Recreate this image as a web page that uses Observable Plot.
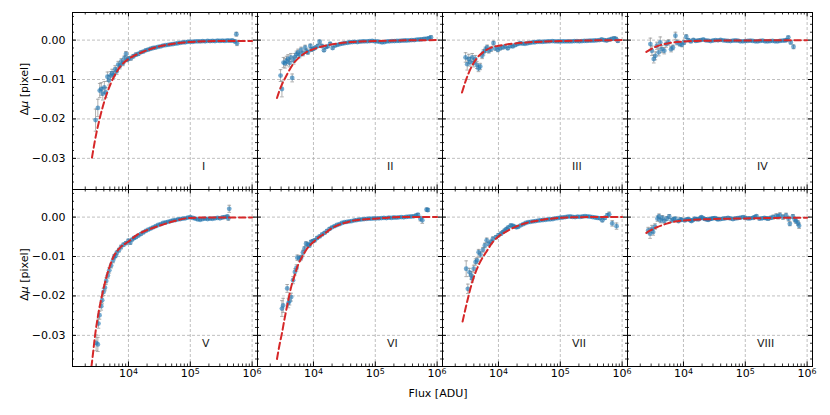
<!DOCTYPE html>
<html>
<head>
<meta charset="utf-8">
<script src="https://cdn.jsdelivr.net/npm/d3@7"></script>
<script src="https://cdn.jsdelivr.net/npm/@observablehq/plot@0.6"></script>
<style>
  body { margin: 0; background: #fff; }
  #chart { width: 830px; height: 415px; }
</style>
</head>
<body>
<div id="chart"></div>
<script>
// ---------- DATA ----------
// readings: [log10(flux / ADU), Δμ in 1e-3 pixel, error in 1e-3 pixel]
// fits:     [log10(flux / ADU), Δμ in 1e-3 pixel]
const panelNames = ["I", "II", "III", "IV", "V", "VI", "VII", "VIII"];

const readings_I = [
  [3.468,-20.3,2.8],[3.505,-17.2,2.2],[3.535,-12.8,1.8],[3.56,-12.4,1.6],[3.585,-13.6,1.6],
  [3.61,-12.0,1.5],[3.635,-13.3,1.3],[3.66,-9.3,1.2],[3.685,-10.2,1.2],[3.71,-9.0,1.0],
  [3.735,-8.4,1.0],[3.76,-8.9,0.9],[3.785,-7.4,0.9],[3.81,-7.9,0.8],[3.835,-6.2,0.8],
  [3.86,-6.6,0.7],[3.885,-5.4,0.7],[3.91,-5.9,0.6],[3.935,-4.6,0.6],[3.96,-3.5,0.6],
  [3.98,-5.0,0.5],[4.00,-4.7,0.5],[4.04,-4.6,0.5],[4.08,-4.1,0.4],[4.12,-3.7,0.4],
  [4.16,-3.5,0.4],[4.20,-3.1,0.3],[4.24,-2.9,0.3],[4.28,-2.6,0.3],[4.32,-2.4,0.3],
  [4.36,-2.2,0.3],[4.40,-2.0,0.3],[4.44,-1.9,0.3],[4.48,-1.7,0.2],[4.52,-1.6,0.2],
  [4.56,-1.4,0.2],[4.60,-1.3,0.2],[4.64,-1.2,0.2],[4.68,-1.1,0.2],[4.72,-1.0,0.2],
  [4.76,-0.9,0.2],[4.80,-0.8,0.2],[4.84,-0.7,0.2],[4.88,-0.6,0.2],[4.92,-0.55,0.2],
  [4.96,-0.45,0.2],[5.00,-0.4,0.2],[5.04,-0.45,0.2],[5.08,-0.35,0.2],[5.12,-0.3,0.2],
  [5.16,-0.35,0.2],[5.20,-0.25,0.2],[5.24,-0.3,0.2],[5.28,-0.2,0.2],[5.32,-0.25,0.2],
  [5.36,-0.2,0.2],[5.40,-0.25,0.2],[5.44,-0.15,0.2],[5.48,-0.2,0.2],[5.52,-0.15,0.2],
  [5.56,-0.2,0.2],[5.60,-0.1,0.2],[5.64,-0.15,0.3],[5.68,-0.1,0.3],[5.72,-0.3,0.4],
  [5.745,1.5,0.5],[5.755,-0.8,0.6]
];
const readings_II = [
  [3.468,-9.0,1.5],[3.49,-12.4,2.0],[3.516,-5.7,1.3],[3.54,-5.9,1.2],[3.565,-5.3,1.2],
  [3.59,-4.8,1.1],[3.613,-5.8,1.0],[3.635,-4.4,1.0],[3.656,-9.6,1.0],[3.68,-5.2,0.9],
  [3.70,-4.3,0.9],[3.725,-3.6,0.8],[3.75,-3.1,0.8],[3.775,-3.8,0.7],[3.80,-2.5,0.7],
  [3.83,-3.4,0.6],[3.865,-1.9,0.6],[3.89,-2.8,0.6],[3.91,-3.1,0.5],[3.95,-1.5,0.5],
  [3.97,-2.4,0.5],[4.00,-2.2,0.4],[4.03,-1.9,0.4],[4.07,-1.5,0.4],[4.10,-0.4,0.4],
  [4.135,-1.5,0.4],[4.17,-2.6,0.3],[4.20,-1.8,0.3],[4.23,-1.6,0.3],[4.27,-0.9,0.3],
  [4.31,-2.0,0.3],[4.35,-1.4,0.3],[4.39,-1.2,0.3],[4.43,-1.0,0.2],[4.47,-0.9,0.2],
  [4.51,-0.75,0.2],[4.55,-0.7,0.2],[4.59,-0.55,0.2],[4.63,-0.5,0.2],[4.67,-0.45,0.2],
  [4.71,-0.5,0.2],[4.75,-0.4,0.2],[4.79,-0.35,0.2],[4.83,-0.3,0.2],[4.87,-0.3,0.2],
  [4.91,-0.25,0.2],[4.95,-0.2,0.2],[4.99,-0.3,0.2],[5.03,-0.35,0.2],[5.07,-0.45,0.2],
  [5.11,-0.6,0.2],[5.15,-0.5,0.2],[5.19,-0.35,0.2],[5.23,-0.3,0.2],[5.27,-0.25,0.2],
  [5.31,-0.25,0.2],[5.35,-0.2,0.2],[5.39,-0.2,0.2],[5.43,-0.15,0.2],[5.47,-0.1,0.2],
  [5.51,-0.1,0.2],[5.55,-0.05,0.2],[5.59,0.0,0.2],[5.63,0.0,0.2],[5.67,0.1,0.2],
  [5.71,0.15,0.2],[5.75,0.2,0.3],[5.79,0.3,0.3],[5.83,0.35,0.3],[5.87,0.5,0.3],
  [5.90,0.7,0.4]
];
const readings_III = [
  [3.468,-4.4,1.2],[3.495,-6.1,1.5],[3.52,-4.8,1.2],[3.543,-5.5,1.1],[3.575,-4.4,1.0],
  [3.597,-5.8,1.0],[3.624,-4.8,0.9],[3.65,-6.3,0.9],[3.677,-7.2,0.8],[3.705,-6.7,0.8],
  [3.736,-4.0,0.7],[3.758,-3.1,0.7],[3.79,-2.45,0.7],[3.817,-1.86,0.6],[3.844,-2.7,0.6],
  [3.88,-2.3,0.6],[3.92,-0.76,0.5],[3.95,-2.1,0.5],[3.99,-2.45,0.5],[4.027,-2.1,0.4],
  [4.07,-1.86,0.4],[4.11,-1.6,0.4],[4.15,-2.1,0.3],[4.19,-1.5,0.3],[4.23,-1.6,0.3],
  [4.27,-1.3,0.3],[4.31,-1.0,0.3],[4.35,-0.8,0.3],[4.39,-0.9,0.2],[4.43,-0.95,0.2],
  [4.47,-0.8,0.2],[4.51,-0.7,0.2],[4.55,-0.6,0.2],[4.59,-0.55,0.2],[4.63,-0.45,0.2],
  [4.67,-0.42,0.2],[4.71,-0.45,0.2],[4.75,-0.4,0.2],[4.79,-0.35,0.2],[4.83,-0.3,0.2],
  [4.87,-0.25,0.2],[4.91,-0.3,0.2],[4.95,-0.35,0.2],[4.99,-0.35,0.2],[5.03,-0.3,0.2],
  [5.07,-0.35,0.2],[5.11,-0.3,0.2],[5.15,-0.35,0.2],[5.19,-0.3,0.2],[5.23,-0.25,0.2],
  [5.27,-0.25,0.2],[5.31,-0.3,0.2],[5.35,-0.25,0.2],[5.39,-0.2,0.2],[5.43,-0.2,0.2],
  [5.47,-0.15,0.2],[5.51,-0.15,0.2],[5.55,-0.1,0.2],[5.59,-0.05,0.2],[5.63,0.0,0.2],
  [5.67,0.15,0.3],[5.71,0.0,0.3],[5.75,-0.1,0.3],[5.79,0.1,0.3],[5.83,0.3,0.3],
  [5.87,0.45,0.4],[5.90,0.3,0.4],[5.93,-0.2,0.4]
];
const readings_IV = [
  [3.465,-1.0,1.5],[3.49,-2.7,1.2],[3.52,-4.8,1.0],[3.545,-4.0,1.0],[3.57,-1.44,0.9],
  [3.60,-3.1,0.9],[3.625,-0.6,1.4],[3.65,-2.3,0.9],[3.69,-2.7,0.8],[3.72,-1.0,0.8],
  [3.76,-0.6,0.7],[3.80,-2.3,0.7],[3.83,-1.86,0.6],[3.87,1.1,0.9],[3.895,-0.6,0.6],
  [3.94,-1.0,0.5],[3.975,-1.2,0.5],[4.01,-0.6,0.5],[4.045,0.85,0.5],[4.08,0.0,0.4],
  [4.12,-0.34,0.3],[4.16,0.08,0.3],[4.20,-0.2,0.3],[4.24,-0.1,0.3],[4.28,0.0,0.3],
  [4.32,0.15,0.2],[4.36,-0.05,0.2],[4.40,-0.15,0.2],[4.44,-0.25,0.2],[4.48,-0.1,0.2],
  [4.52,0.0,0.2],[4.56,-0.05,0.2],[4.60,0.08,0.2],[4.64,-0.05,0.2],[4.68,-0.15,0.2],
  [4.72,-0.2,0.2],[4.76,-0.25,0.2],[4.80,-0.15,0.2],[4.84,-0.1,0.2],[4.88,-0.15,0.2],
  [4.92,-0.3,0.2],[4.96,-0.3,0.2],[5.00,-0.25,0.2],[5.04,-0.2,0.2],[5.08,-0.15,0.2],
  [5.12,-0.2,0.2],[5.16,-0.3,0.2],[5.20,-0.35,0.2],[5.24,-0.2,0.2],[5.28,-0.15,0.2],
  [5.32,-0.3,0.2],[5.36,-0.35,0.2],[5.40,-0.25,0.2],[5.44,-0.2,0.2],[5.48,-0.3,0.2],
  [5.52,-0.35,0.2],[5.56,-0.2,0.2],[5.60,-0.15,0.2],[5.64,-0.1,0.3],[5.67,0.0,0.3],
  [5.695,0.7,0.3],[5.735,-0.6,0.4],[5.78,-1.7,0.5]
];
const readings_V = [
  [3.477,-31.9,2.0],[3.505,-32.3,1.8],[3.515,-27.0,1.2],[3.532,-24.9,1.0],[3.56,-22.6,1.0],
  [3.575,-21.1,0.9],[3.597,-19.0,0.9],[3.62,-17.9,0.8],[3.64,-16.2,0.8],[3.667,-14.8,0.7],
  [3.69,-13.5,0.7],[3.72,-12.3,0.6],[3.75,-11.0,0.6],[3.77,-10.1,0.6],[3.79,-9.8,0.5],
  [3.81,-9.1,0.5],[3.845,-8.4,0.5],[3.88,-7.6,0.5],[3.92,-7.0,0.4],[3.96,-6.6,0.4],
  [4.00,-6.0,0.4],[4.03,-6.5,0.4],[4.06,-5.7,0.3],[4.09,-5.3,0.3],[4.12,-5.1,0.3],
  [4.16,-4.7,0.3],[4.20,-4.3,0.3],[4.24,-3.9,0.3],[4.28,-3.5,0.2],[4.32,-3.2,0.2],
  [4.36,-2.9,0.2],[4.40,-2.6,0.2],[4.44,-2.3,0.2],[4.48,-2.0,0.2],[4.52,-1.8,0.2],
  [4.56,-1.5,0.2],[4.60,-1.35,0.2],[4.64,-1.2,0.2],[4.68,-1.0,0.2],[4.72,-0.85,0.2],
  [4.76,-0.75,0.2],[4.80,-0.6,0.2],[4.84,-0.5,0.2],[4.88,-0.4,0.2],[4.92,-0.3,0.2],
  [4.96,-0.15,0.2],[5.00,0.0,0.2],[5.04,-0.2,0.2],[5.08,-0.4,0.2],[5.12,-0.6,0.2],
  [5.16,-0.7,0.2],[5.20,-0.5,0.2],[5.24,-0.4,0.2],[5.28,-0.5,0.2],[5.32,-0.4,0.2],
  [5.36,-0.45,0.2],[5.40,-0.3,0.2],[5.44,-0.2,0.2],[5.48,-0.3,0.2],[5.52,-0.1,0.3],
  [5.56,0.0,0.3],[5.60,0.2,0.3],[5.615,-0.3,0.5],[5.63,2.1,0.9]
];
const readings_VI = [
  [3.49,-23.2,2.0],[3.51,-22.4,1.8],[3.575,-18.1,1.0],[3.595,-21.8,1.2],[3.613,-21.3,1.0],
  [3.64,-20.3,1.0],[3.67,-16.0,0.9],[3.70,-13.9,0.8],[3.725,-12.9,0.8],[3.74,-10.3,0.7],
  [3.775,-10.5,0.7],[3.80,-10.3,0.6],[3.83,-9.0,0.6],[3.855,-8.0,0.5],[3.88,-6.75,0.5],
  [3.91,-7.0,0.5],[3.935,-7.2,0.4],[3.96,-6.3,0.4],[3.99,-6.1,0.4],[4.02,-5.9,0.4],
  [4.06,-5.3,0.3],[4.10,-4.9,0.3],[4.14,-4.4,0.3],[4.18,-4.0,0.3],[4.22,-3.5,0.3],
  [4.26,-3.0,0.3],[4.30,-2.6,0.2],[4.34,-2.3,0.2],[4.38,-2.0,0.2],[4.42,-1.8,0.2],
  [4.46,-1.5,0.2],[4.50,-1.3,0.2],[4.54,-1.2,0.2],[4.58,-1.1,0.2],[4.62,-1.0,0.2],
  [4.66,-0.85,0.2],[4.70,-0.75,0.2],[4.74,-0.65,0.2],[4.78,-0.6,0.2],[4.82,-0.5,0.2],
  [4.86,-0.45,0.2],[4.90,-0.4,0.2],[4.94,-0.4,0.2],[4.98,-0.35,0.2],[5.02,-0.3,0.2],
  [5.06,-0.3,0.2],[5.10,-0.25,0.2],[5.14,-0.2,0.2],[5.18,-0.25,0.2],[5.22,-0.15,0.2],
  [5.26,-0.2,0.2],[5.30,-0.1,0.2],[5.34,-0.15,0.2],[5.38,-0.05,0.2],[5.42,0.0,0.2],
  [5.46,-0.05,0.2],[5.50,0.05,0.2],[5.54,0.1,0.2],[5.58,0.15,0.2],[5.62,0.2,0.3],
  [5.66,0.4,0.3],[5.69,0.6,0.3],[5.73,-0.4,0.6],[5.76,-0.8,0.8],[5.83,1.9,0.4],
  [5.85,1.8,0.4]
];
const readings_VII = [
  [3.478,-13.1,2.0],[3.505,-18.2,1.2],[3.532,-14.0,1.0],[3.56,-14.8,1.0],[3.575,-15.6,0.9],
  [3.60,-13.1,0.9],[3.63,-11.4,0.8],[3.655,-11.0,0.8],[3.68,-8.9,0.7],[3.71,-9.5,0.7],
  [3.75,-8.3,0.6],[3.78,-7.2,0.6],[3.81,-5.9,0.6],[3.845,-6.8,0.5],[3.88,-6.3,0.5],
  [3.91,-5.5,0.5],[3.96,-5.1,0.4],[4.00,-4.6,0.4],[4.04,-4.2,0.4],[4.07,-3.8,0.3],
  [4.10,-3.4,0.3],[4.13,-3.0,0.3],[4.16,-2.6,0.3],[4.20,-2.1,0.3],[4.23,-2.2,0.3],
  [4.26,-2.4,0.3],[4.29,-2.6,0.3],[4.32,-2.5,0.2],[4.36,-2.1,0.2],[4.40,-1.8,0.2],
  [4.44,-1.5,0.2],[4.48,-1.3,0.2],[4.52,-1.2,0.2],[4.56,-1.1,0.2],[4.60,-1.0,0.2],
  [4.64,-0.9,0.2],[4.68,-0.8,0.2],[4.72,-0.75,0.2],[4.76,-0.7,0.2],[4.80,-0.6,0.2],
  [4.84,-0.55,0.2],[4.88,-0.5,0.2],[4.92,-0.35,0.2],[4.96,-0.25,0.2],[5.00,-0.15,0.2],
  [5.04,-0.1,0.2],[5.08,0.0,0.2],[5.12,0.1,0.2],[5.16,0.15,0.2],[5.20,0.05,0.2],
  [5.24,0.0,0.2],[5.28,0.1,0.2],[5.32,0.05,0.2],[5.36,0.15,0.2],[5.40,0.25,0.2],
  [5.44,0.2,0.2],[5.48,0.1,0.2],[5.52,0.0,0.2],[5.56,-0.1,0.2],[5.60,-0.2,0.3],
  [5.64,-0.3,0.3],[5.68,-0.8,0.4],[5.72,-0.2,0.4],[5.76,0.4,0.5],[5.79,0.7,0.6],
  [5.84,-1.6,0.7],[5.91,-2.3,0.8]
];
const readings_VIII = [
  [3.43,-3.4,0.8],[3.46,-4.2,1.2],[3.49,-3.0,0.9],[3.51,-3.8,0.8],[3.54,-2.4,0.7],
  [3.58,-0.4,0.7],[3.605,0.2,0.6],[3.63,-0.85,0.6],[3.66,-0.2,0.6],[3.69,-1.0,0.5],
  [3.73,-0.4,0.5],[3.77,0.15,0.5],[3.81,-0.85,0.4],[3.84,-0.5,0.4],[3.87,-0.4,0.4],
  [3.92,-1.0,0.4],[3.95,-0.6,0.4],[3.97,-0.7,0.4],[4.02,-0.85,0.3],[4.05,-0.6,0.3],
  [4.08,-0.5,0.3],[4.11,-0.8,0.3],[4.13,-1.0,0.3],[4.16,-0.7,0.3],[4.185,-0.4,0.3],
  [4.21,-0.5,0.3],[4.24,-0.6,0.3],[4.27,-0.3,0.3],[4.29,0.0,0.3],[4.32,-0.3,0.3],
  [4.35,-0.5,0.3],[4.38,-0.6,0.3],[4.40,-0.7,0.3],[4.43,-0.5,0.3],[4.45,-0.4,0.3],
  [4.48,-0.3,0.3],[4.51,-0.25,0.3],[4.54,-0.45,0.3],[4.56,-0.6,0.3],[4.60,-0.5,0.3],
  [4.64,-0.4,0.3],[4.68,-0.3,0.3],[4.72,-0.2,0.3],[4.76,-0.35,0.3],[4.80,-0.5,0.3],
  [4.84,-0.35,0.3],[4.88,-0.25,0.3],[4.92,-0.15,0.3],[4.965,0.0,0.3],[5.00,-0.2,0.3],
  [5.045,-0.35,0.3],[5.08,-0.3,0.3],[5.125,-0.2,0.3],[5.15,0.0,0.3],[5.18,0.25,0.3],
  [5.23,-0.4,0.3],[5.27,-0.3,0.3],[5.31,-0.2,0.3],[5.34,-0.3,0.3],[5.37,-0.4,0.4],
  [5.41,-0.2,0.4],[5.45,0.0,0.5],[5.50,0.25,0.6],[5.53,0.1,0.6],[5.56,0.5,0.6],
  [5.61,0.0,0.6],[5.66,0.4,0.6],[5.70,-0.4,0.6],[5.72,-1.7,0.5],[5.77,0.15,0.5],
  [5.80,-0.6,0.6],[5.82,-1.0,0.6],[5.85,-1.5,0.6],[5.87,-2.2,0.7]
];

const fit_I = [[3.41,-29.8],[3.47,-24.5],[3.53,-20.2],[3.59,-16.6],[3.65,-13.6],[3.72,-10.8],
  [3.80,-8.3],[3.88,-6.5],[4.0,-4.8],[4.1,-3.9],[4.2,-3.2],[4.35,-2.3],[4.5,-1.6],[4.7,-1.0],
  [4.9,-0.6],[5.1,-0.4],[5.4,-0.25],[5.7,-0.2],[6.0,-0.2]];
const fit_II = [[3.41,-14.7],[3.48,-11.6],[3.53,-10.0],[3.59,-8.2],[3.67,-6.1],[3.77,-4.4],
  [3.88,-3.1],[4.0,-2.3],[4.18,-1.45],[4.39,-0.85],[4.61,-0.5],[5.0,-0.25],[5.41,-0.08],[6.0,0.0]];
const fit_III = [[3.41,-13.3],[3.48,-9.9],[3.56,-6.9],[3.64,-4.8],[3.75,-3.1],[3.88,-1.9],
  [4.0,-1.44],[4.18,-1.0],[4.45,-0.6],[5.0,-0.25],[5.52,-0.08],[6.0,0.0]];
const fit_IV = [[3.40,-3.0],[3.46,-2.4],[3.52,-1.9],[3.60,-1.4],[3.68,-1.05],[3.76,-0.8],
  [3.84,-0.6],[4.0,-0.35],[4.2,-0.22],[4.5,-0.14],[5.0,-0.08],[6.0,-0.05]];
const fit_V = [[3.38,-40.5],[3.42,-35.5],[3.46,-30.0],[3.51,-24.8],[3.57,-20.0],[3.63,-16.0],
  [3.69,-12.8],[3.76,-10.0],[3.85,-8.0],[4.0,-6.2],[4.15,-4.4],[4.3,-3.3],[4.48,-2.3],
  [4.7,-1.2],[5.0,-0.2],[5.3,-0.1],[6.0,-0.1]];
const fit_VI = [[3.41,-36.0],[3.45,-32.5],[3.49,-29.5],[3.53,-26.0],[3.56,-23.6],[3.60,-20.5],
  [3.64,-17.7],[3.70,-14.6],[3.75,-12.2],[3.82,-10.0],[3.88,-8.4],[4.0,-6.3],[4.09,-5.1],
  [4.18,-4.2],[4.28,-3.0],[4.39,-2.1],[4.5,-1.5],[4.61,-1.0],[4.8,-0.6],[5.0,-0.4],
  [5.2,-0.15],[5.41,0.0],[6.0,0.0]];
const fit_VII = [[3.42,-26.5],[3.47,-23.0],[3.505,-20.7],[3.545,-18.2],[3.585,-16.0],[3.64,-13.6],
  [3.69,-11.8],[3.75,-10.1],[3.80,-8.9],[3.91,-6.3],[4.0,-4.9],[4.09,-4.0],[4.18,-3.2],
  [4.3,-2.3],[4.45,-1.5],[4.6,-1.0],[4.72,-0.67],[4.85,-0.4],[5.0,-0.16],[5.25,-0.05],
  [5.52,0.0],[6.0,0.0]];
const fit_VIII = [[3.40,-4.0],[3.45,-3.5],[3.51,-3.0],[3.58,-2.5],[3.65,-2.1],[3.73,-1.65],
  [3.81,-1.3],[3.9,-1.05],[4.0,-0.85],[4.15,-0.7],[4.29,-0.6],[4.6,-0.45],[5.0,-0.34],
  [5.5,-0.2],[6.0,-0.17]];

const xTickValues = [1e4, 1e5, 1e6];
const yTickValues = [0, -0.01, -0.02, -0.03];

// ---------- BUILD TABLES ----------
const readingsList = [readings_I, readings_II, readings_III, readings_IV,
                      readings_V, readings_VI, readings_VII, readings_VIII];
const fitList = [fit_I, fit_II, fit_III, fit_IV, fit_V, fit_VI, fit_VII, fit_VIII];

const panels = panelNames.map((name, i) => ({name, col: i % 4 + 1, row: Math.floor(i / 4) + 1}));
const points = [];
const fits = [];
panels.forEach((p, i) => {
  readingsList[i].forEach(([lf, d, e]) => points.push({
    name: p.name, col: p.col, row: p.row, f: 10 ** lf,
    y: d / 1000, lo: (d - e) / 1000, hi: (d + e) / 1000
  }));
  fitList[i].forEach(([lf, d]) => fits.push({name: p.name, col: p.col, row: p.row, f: 10 ** lf, y: d / 1000}));
});

// axis structure
const xDomain = [10 ** 3.095, 10 ** 6.087];
const yDomain = [-0.0379, 0.0070];
const xMinor = [];
[1e3, 1e4, 1e5, 1e6].forEach(b => { for (let k = 2; k <= 9; k++) { const v = b * k; if (v > xDomain[0] && v < xDomain[1]) xMinor.push(v); } });
const yMinor = d3.range(-36, 7, 2).filter(v => v % 10 !== 0).map(v => v / 1000);

// layout
const W = 830, H = 415, mL = 71, mR = 17, mT = 12, mB = 49;
const fw = (W - mL - mR) / 4, fh = (H - mT - mB) / 2;
const majorLen = 4.5, minorLen = 2.5;

const capSymbol = {draw(ctx, size) { const w = Math.sqrt(size / Math.PI); ctx.moveTo(-w, 0); ctx.lineTo(w, 0); }};
const supMap = {"0": "⁰", "1": "¹", "2": "²", "3": "³", "4": "⁴", "5": "⁵", "6": "⁶"};
const fmtX = d => "10" + supMap[String(Math.round(Math.log10(d)))];
const fmtY = d => (d < -1e-9 ? "−" : "") + Math.abs(d).toFixed(2);

const fx = "col", fy = "row";
const chart = Plot.plot({
  width: W, height: H,
  marginLeft: mL, marginRight: mR, marginTop: mT, marginBottom: mB,
  style: {fontFamily: "'DejaVu Sans', sans-serif", fontSize: "11px", background: "white", color: "black"},
  x: {type: "log", domain: xDomain},
  y: {domain: yDomain},
  fx: {domain: [1, 2, 3, 4], padding: 0, axis: null},
  fy: {domain: [1, 2], padding: 0, axis: null},
  marks: [
    // grid
    Plot.ruleX(xTickValues, {x: d => d, stroke: "#b0b0b0", strokeWidth: 0.8, strokeDasharray: "3,2"}),
    Plot.ruleY(yTickValues, {y: d => d, stroke: "#b0b0b0", strokeWidth: 0.8, strokeDasharray: "3,2"}),
    // error bars
    Plot.ruleX(points, {x: "f", y1: "lo", y2: "hi", fx, fy, stroke: "#9a9a9a", strokeWidth: 1, strokeOpacity: 0.8, clip: true}),
    Plot.dot(points, {x: "f", y: "lo", fx, fy, symbol: capSymbol, r: 1.8, stroke: "#9a9a9a", strokeOpacity: 0.8, fill: "none", strokeWidth: 1, clip: true}),
    Plot.dot(points, {x: "f", y: "hi", fx, fy, symbol: capSymbol, r: 1.8, stroke: "#9a9a9a", strokeOpacity: 0.8, fill: "none", strokeWidth: 1, clip: true}),
    // points
    Plot.dot(points, {x: "f", y: "y", fx, fy, r: 2.4, fill: "#1f77b4", fillOpacity: 0.62, stroke: "none", clip: true}),
    // fitted curve
    Plot.line(fits, {x: "f", y: "y", z: "name", fx, fy, stroke: "#d62728", strokeWidth: 2,
      strokeDasharray: "6.5,3.5", curve: "monotone-x", clip: true}),
    // spines
    Plot.frame({stroke: "black", strokeWidth: 1}),
    // inward ticks (bottom/top)
    Plot.tickX(xTickValues, {x: d => d, insetTop: fh - majorLen, stroke: "black", strokeWidth: 1}),
    Plot.tickX(xTickValues, {x: d => d, insetBottom: fh - majorLen, stroke: "black", strokeWidth: 1}),
    Plot.tickX(xMinor, {x: d => d, insetTop: fh - minorLen, stroke: "black", strokeWidth: 0.8}),
    Plot.tickX(xMinor, {x: d => d, insetBottom: fh - minorLen, stroke: "black", strokeWidth: 0.8}),
    // inward ticks (left/right)
    Plot.tickY(yTickValues, {y: d => d, insetRight: fw - majorLen, stroke: "black", strokeWidth: 1}),
    Plot.tickY(yTickValues, {y: d => d, insetLeft: fw - majorLen, stroke: "black", strokeWidth: 1}),
    Plot.tickY(yMinor, {y: d => d, insetRight: fw - minorLen, stroke: "black", strokeWidth: 0.8}),
    Plot.tickY(yMinor, {y: d => d, insetLeft: fw - minorLen, stroke: "black", strokeWidth: 0.8}),
    // tick labels
    Plot.axisX({ticks: xTickValues, anchor: "bottom", tickSize: 0, tickPadding: 3, tickFormat: fmtX, label: null, fontSize: 11}),
    Plot.axisY({ticks: yTickValues, anchor: "left", tickSize: 0, tickPadding: 7, tickFormat: fmtY, label: null, fontSize: 11}),
    // panel labels
    Plot.text(panels, {fx, fy, text: "name", frameAnchor: "bottom-left", dx: 129.5, dy: -23,
      textAnchor: "start", lineAnchor: "middle", fontSize: 11, fill: "#222"}),
    // axis titles
    Plot.text([{col: 1, row: 1}], {fx, fy, text: () => "Δμ [pixel]", frameAnchor: "left", dx: -48.5, dy: -12,
      rotate: -90, textAnchor: "middle", lineAnchor: "middle", fontSize: 11}),
    Plot.text([{col: 1, row: 2}], {fx, fy, text: () => "Δμ [pixel]", frameAnchor: "left", dx: -48.5, dy: -3.5,
      rotate: -90, textAnchor: "middle", lineAnchor: "middle", fontSize: 11}),
    Plot.text([{col: 2, row: 2}], {fx, fy, text: () => "Flux [ADU]", frameAnchor: "bottom-right", dx: -4.5, dy: 26.5,
      textAnchor: "middle", lineAnchor: "middle", fontSize: 11})
  ]
});
document.getElementById("chart").appendChild(chart);

// typographic touches: matplotlib-like superscripts and italic mu
const supBack = {"⁰": "0", "¹": "1", "²": "2", "³": "3", "⁴": "4", "⁵": "5", "⁶": "6"};
d3.select(chart).selectAll("text").each(function () {
  if (this.querySelector("tspan")) return;
  const t = this.textContent;
  const m = t.match(/^10([⁰¹²³⁴⁵⁶])$/);
  if (m) {
    const el = d3.select(this);
    el.text("10");
    el.append("tspan").attr("dy", "-0.45em").attr("font-size", "0.72em").text(supBack[m[1]]);
  } else if (t === "Δμ [pixel]") {
    const el = d3.select(this);
    el.text("Δ");
    el.append("tspan").attr("font-style", "italic").text("μ");
    el.append("tspan").text(" [pixel]");
  }
});
</script>
</body>
</html>
